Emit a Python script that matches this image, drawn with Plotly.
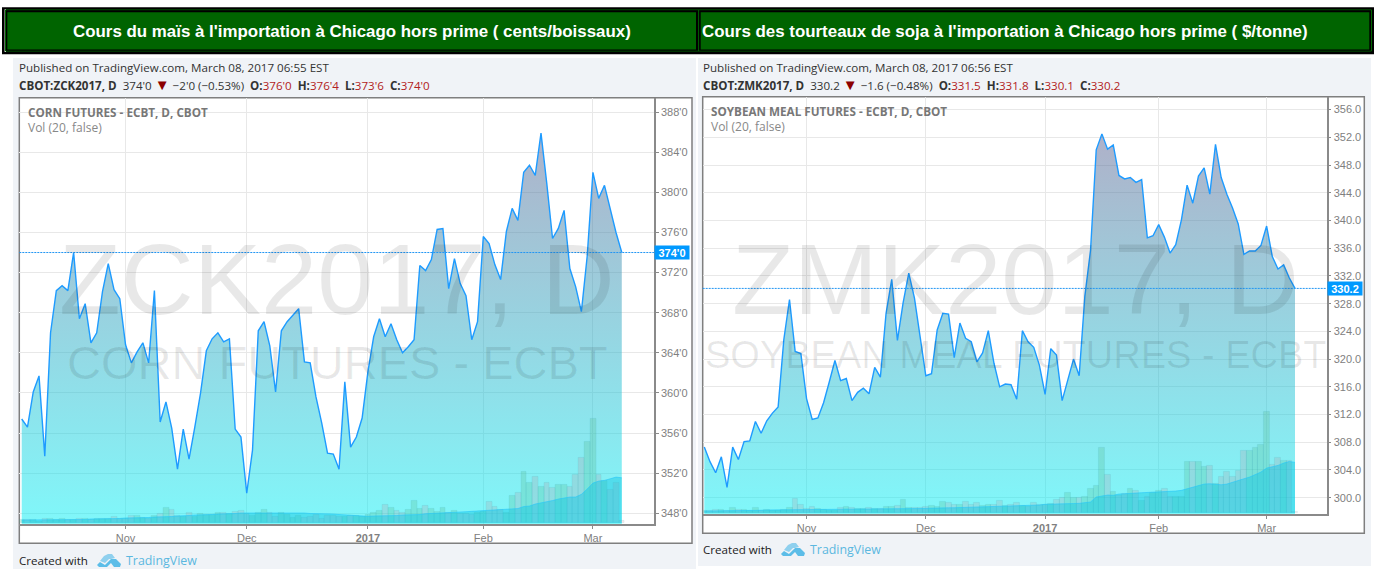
import plotly.graph_objects as go

W, H = 1380, 569

# ---------- data ----------
month_labels = ["Nov", "Dec", "<b>2017</b>", "Feb", "Mar"]
corn_month_idx = [18, 39, 60, 80, 99]
soy_month_idx = [18, 39, 60, 80, 99]

corn_close = [357.4, 356.6, 360.1, 361.7, 353.7, 366.0, 370.2, 370.7, 370.2, 374.0,
              367.4, 368.9, 365.0, 366.0, 370.1, 372.9, 370.3, 369.4, 364.8, 363.0,
              364.1, 365.0, 363.0, 370.2, 357.1, 359.1, 356.5, 352.4, 356.4, 353.4,
              356.6, 360.0, 364.2, 365.4, 366.0, 365.1, 365.4, 356.4, 355.6, 350.0,
              354.3, 366.2, 367.1, 364.7, 360.1, 366.2, 367.1, 367.7, 368.4, 363.1,
              363.0, 359.6, 357.0, 354.0, 353.9, 352.4, 361.1, 354.6, 355.6, 357.5,
              362.1, 365.6, 367.4, 365.6, 366.9, 365.3, 364.0, 364.6, 365.3, 372.7,
              372.2, 373.3, 376.3, 376.4, 370.4, 373.4, 370.9, 369.7, 365.3, 367.1,
              375.6, 374.9, 372.8, 371.3, 376.1, 378.4, 377.2, 382.0, 382.7, 381.7,
              385.9, 380.9, 375.4, 376.4, 378.2, 372.4, 370.6, 368.1, 373.6, 382.0,
              379.4, 380.7, 378.2, 376.0, 374.0]
corn_vol = [3.3, 3, 3, 1.7, 4, 4, 3.3, 4.7, 3.3, 3.3,
            4.7, 4, 3.3, 4.3, 4.3, 4.3, 6, 4.7, 4.7, 7.3,
            7.3, 5.3, 4.7, 7.7, 9.3, 15, 13, 7.3, 6.7, 10,
            6.7, 9.3, 8.3, 8.3, 10, 10, 9.7, 11.3, 12, 9.3,
            7.3, 10, 13, 10.3, 6.7, 10, 8.7, 5, 7.3, 5.7,
            6.7, 8.7, 4.7, 7.7, 7.3, 6.7, 6.7, 7.7, 7.7, 6.7,
            8.3, 10, 12, 18.3, 15, 12, 10, 13.3, 22, 14.7,
            17.3, 14.7, 11, 15.7, 10, 12, 9.3, 9, 8.7, 10.3,
            11.3, 21.3, 16.3, 13.3, 10.7, 27.3, 30.3, 51.3, 40.3, 46.7,
            36.7, 40.3, 35.7, 38.3, 38.3, 36.3, 48.7, 65.7, 81.3, 104.3,
            48.7, 42, 33.7, 40.3, 2.7]
corn_vol_ma = [3, 3, 3, 3, 3, 3, 3, 3, 3, 3,
               3.5, 3.5, 4, 4, 4, 4, 4.5, 4.5, 5, 5,
               5, 5.5, 5.5, 6, 6, 6.5, 6.5, 7, 7, 7.5,
               8, 8, 8.5, 8.5, 9, 9, 9.5, 9.5, 10, 10,
               10, 10, 10, 10.5, 10.5, 10.5, 10.5, 10.5, 10, 10,
               9.5, 9.5, 9.5, 9, 9, 8.5, 8, 7.5, 7, 6.5,
               6.7, 7, 7, 7.5, 7.5, 7.5, 8, 8, 8.5, 8.5,
               9.3, 9.5, 9.7, 10, 10.3, 10.7, 11, 11.3, 11.7, 12,
               12.7, 13, 13, 13.5, 13.5, 14, 14.5, 16.5, 17, 19,
               20, 21.5, 22.5, 24, 25, 26, 26, 28.7, 34, 40,
               42, 42.7, 44.3, 46, 45.3]
corn_ticks = [348, 352, 356, 360, 364, 368, 372, 376, 380, 384, 388]
corn_tick_labels = ["348'0", "352'0", "356'0", "360'0", "364'0", "368'0", "372'0", "376'0", "380'0", "384'0", "388'0"]

soy_close = [307.3, 305.2, 303.6, 305.9, 301.5, 307.3, 305.5, 308.1, 308.2, 311.0,
             309.3, 311.1, 312.2, 313.1, 322.8, 328.6, 321.1, 320.8, 314.3, 311.3,
             311.5, 313.7, 316.7, 319.8, 316.9, 317.2, 314.0, 315.2, 315.8, 315.0,
             318.8, 317.4, 326.6, 331.5, 322.7, 328.1, 332.4, 328.8, 323.2, 317.6,
             317.9, 324.2, 326.6, 326.5, 320.2, 325.2, 323.0, 322.5, 319.6, 320.9,
             324.1, 319.4, 316.0, 316.4, 316.3, 314.2, 324.1, 322.5, 321.7, 319.1,
             314.9, 321.5, 320.6, 314.0, 317.0, 320.0, 317.6, 329.1, 335.7, 350.2,
             352.5, 350.3, 350.9, 346.5, 346.0, 346.2, 345.5, 345.9, 337.5, 337.8,
             339.4, 337.6, 335.3, 336.5, 340.1, 345.1, 342.5, 346.4, 347.6, 343.8,
             351.0, 346.2, 343.8, 341.8, 339.5, 335.1, 335.6, 335.6, 336.4, 339.2,
             334.8, 333.0, 333.6, 331.7, 330.2]
soy_vol = [2, 2.7, 3.3, 3.3, 2, 5.3, 3.3, 3.3, 2.7, 5.3,
           2.7, 3.3, 2.7, 2.7, 3.3, 5.3, 14.3, 8.7, 4.7, 6.3,
           4.3, 3.3, 2, 2, 5.3, 6.3, 5.7, 4.7, 4.7, 5.3,
           4, 4.7, 6.7, 6, 7.3, 13.3, 5.7, 5.7, 5.7, 6.7,
           7.3, 6, 11.7, 10.7, 8.7, 8.7, 11.7, 8.7, 10, 7.3,
           8, 8, 12.7, 7.3, 8, 10, 7.3, 6.7, 10, 8.7,
           8.7, 9.3, 13.3, 15.3, 20.7, 15.7, 15.7, 16.7, 24.7, 27.7,
           65.7, 38.7, 21.3, 17.3, 19.7, 24.7, 22.3, 12.3, 16.7, 20.7,
           22.3, 24.3, 16.7, 16.7, 16.7, 51, 51, 51, 46.7, 47.3,
           29.3, 36.7, 41.3, 36, 42.7, 62.7, 62.7, 65.7, 68, 102,
           48.7, 55.7, 52.7, 52, 1.3]
soy_vol_ma = [2, 2, 2, 2.3, 2.3, 2.5, 2.5, 2.5, 2.5, 2.7,
              2.7, 3, 3, 3, 3, 3.3, 3.5, 3.5, 3.7, 3.7,
              3.7, 3.7, 3.7, 3.7, 3.8, 3.8, 3.8, 3.8, 4, 4,
              4, 4, 4.2, 4.2, 4.3, 4.5, 4.5, 4.5, 4.5, 4.7,
              5, 5, 5.2, 5.2, 5.3, 5.5, 5.5, 5.7, 6, 6,
              6.3, 6.5, 6.5, 6.7, 6.7, 7, 7, 7.3, 7.5, 8,
              8.7, 9, 9, 9.3, 9.3, 9.5, 9.7, 10, 11, 16,
              17, 18, 17.7, 19, 19.3, 20, 20, 20.3, 20.5, 20.7,
              21, 21.3, 21.7, 22, 22.7, 24.3, 26, 27.7, 29, 29.3,
              28.7, 28.3, 29, 31, 32.7, 34.3, 36, 38.7, 41, 45,
              46, 47.7, 50, 51.7, 50.7]
soy_ticks = list(range(300, 360, 4))
soy_tick_labels = [f"{v}.0" for v in soy_ticks]

titles = ["Cours du maïs à l'importation à Chicago hors prime ( cents/boissaux)",
          "Cours des tourteaux de soja à l'importation à Chicago hors prime ( $/tonne)"]

# ---------- helpers ----------
px = lambda x: x / W
py = lambda y: 1 - y / H
shapes, annos = [], []


def rect(x0, y0, x1, y1, fill, line=None, lw=0, layer="below"):
    shapes.append(dict(type="rect", xref="paper", yref="paper", x0=px(x0), x1=px(x1), y0=py(y1), y1=py(y0),
                       fillcolor=fill, line=dict(color=line or "rgba(0,0,0,0)", width=lw), layer=layer))


def text(x, y, s, size=12, color="#333", family="Open Sans", anchor="left", **kw):
    if anchor == "left":
        x -= 2
    annos.append(dict(xref="paper", yref="paper", x=px(x), y=py(y - 1), text=s, showarrow=False, xanchor=anchor,
                      yanchor="middle", font=dict(family=family, size=size, color=color), **kw))


def logo(x, y):
    for pts, col in (([(3, 7), (7, 2), (11, 0), (15, 0), (18, 4), (14, 5), (12, 5), (8, 9)], "#8fd0ee"),
                     ([(0, 11), (3, 8), (8, 11), (14, 5), (19, 5), (24, 10), (23, 13), (17, 13), (14, 9), (10, 13), (2, 13)], "#5cbde8")):
        p = "M" + " L".join(f"{px(x + a):.5f},{py(y + b):.5f}" for a, b in pts) + " Z"
        shapes.append(dict(type="path", xref="paper", yref="paper", path=p, fillcolor=col,
                           line=dict(width=0), layer="above"))


# ---------- header band ----------
rect(2, 7.3, 1374, 54.3, "#000000")
rect(4.6, 9.3, 6, 52, "#ffffff")
shapes.append(dict(type="rect", xref="paper", yref="paper", x0=px(5.5), x1=px(1371.5), y0=py(51), y1=py(9.9),
                   line=dict(color="#006400", width=1), layer="below"))
rect(6.2, 10.6, 1370.6, 50.4, "#000000")
rect(7.3, 12.3, 696, 49.6, "#006400")
rect(700.7, 12.3, 1369.3, 49.6, "#006400")
shapes.append(dict(type="line", xref="paper", yref="paper", x0=px(698.6), x1=px(698.6), y0=py(51), y1=py(9.9),
                   line=dict(color="#006400", width=1), layer="below"))
text(352, 32, f"<b>{titles[0]}</b>", 16.9, "#ffffff", "Liberation Sans", "center")
text(1005, 32, f"<b>{titles[1]}</b>", 16.9, "#ffffff", "Liberation Sans", "center")

# ---------- panels ----------
RED = "#b22222"
NB = "\u00a0"
TRI = "<span style='color:#8b0000;font-size:15px'>▼</span>"


def symbol_line(sym, price, chg, o, h, l, c):
    return (f"<b>{sym}</b>{NB}{NB}{price} {TRI} {chg}{NB}{NB}"
            f"<b>O:</b><span style='color:{RED}'>{o}</span>{NB}{NB}<b>H:</b><span style='color:{RED}'>{h}</span>{NB}{NB}"
            f"<b>L:</b><span style='color:{RED}'>{l}</span>{NB}{NB}<b>C:</b><span style='color:{RED}'>{c}</span>")


panels = [
    dict(panel=(13, 58, 696, 569), frame=(19.3, 97.7, 692, 543.3), axis_x=654, axis_y=524,
         x0=21.7, step=5.77, ticks_idx=corn_month_idx, close=corn_close, vol=corn_vol, ma=corn_vol_ma,
         ticks=corn_ticks, labels=corn_tick_labels, y348=(348, 513.3), ppu=10.03, last_label="374'0",
         tx=19, pub="Published on TradingView.com, March 08, 2017 06:55 EST",
         sym=symbol_line("CBOT:ZCK2017, D", "374'0", "−2'0 (−0.53%)", "376'0", "376'4", "373'6", "374'0"),
         name="CORN FUTURES - ECBT, D, CBOT", namex=28, namey=113, voly=129,
         wm1="ZCK2017, D", wm2="CORN FUTURES - ECBT", wmx=337, wm1y=280, wm2y=363, wm2s=47, credity=561),
    dict(panel=(698, 58, 1371, 566), frame=(702.7, 96.7, 1364.3, 533.3), axis_x=1326.7, axis_y=514,
         x0=704.3, step=5.68, ticks_idx=soy_month_idx, close=soy_close, vol=soy_vol, ma=soy_vol_ma,
         ticks=soy_ticks, labels=soy_tick_labels, y348=(300, 497.7), ppu=6.93, last_label="330.2",
         tx=703, pub="Published on TradingView.com, March 08, 2017 06:56 EST",
         sym=symbol_line("CBOT:ZMK2017, D", "330.2", "−1.6 (−0.48%)", "331.5", "331.8", "330.1", "330.2"),
         name="SOYBEAN MEAL FUTURES - ECBT, D, CBOT", namex=711, namey=112, voly=127.5,
         wm1="ZMK2017, D", wm2="SOYBEAN MEAL FUTURES - ECBT", wmx=1015, wm1y=280, wm2y=356, wm2s=38, credity=550),
]

fig = go.Figure()
layout_axes = {}
GRID = "#e8e8e8"
AXC = "#8a8a8a"
TICKC = "#808080"
for k, p in enumerate(panels):
    xn = "x" if k == 0 else "x2"
    yn = "y" if k == 0 else "y3"
    vn = "y2" if k == 0 else "y4"
    xk, yk, vk = xn.replace("x", "xaxis"), yn.replace("y", "yaxis"), vn.replace("y", "yaxis")
    fx0, fy0, fx1, fy1 = p["frame"]
    ax, ay = p["axis_x"], p["axis_y"]
    rect(*p["panel"], "#f0f3f7")
    rect(fx0, fy0, fx1, fy1, "#ffffff", "#7f7f7f", 1.5)
    xr = [(fx0 - p["x0"]) / p["step"], (ax - p["x0"]) / p["step"]]
    v0, y0 = p["y348"]
    yr = [v0 - (ay - y0) / p["ppu"], v0 + (y0 - fy0) / p["ppu"]]
    idx = list(range(len(p["close"])))
    top = max(p["close"]) + 1
    fig.add_trace(go.Scatter(
        x=idx, y=p["close"], mode="lines", xaxis=xn, yaxis=yn, line=dict(color="#1e9bff", width=1.4), fill="tozeroy",
        fillgradient=dict(type="vertical", start=yr[0], stop=top,
                          colorscale=[[0, "rgba(0,240,245,0.5)"], [1, "rgba(96,96,144,0.5)"]]),
        showlegend=False, hoverinfo="skip"))
    bar_cols = ["rgba(83,185,135,0.25)" if i == 0 or p["close"][i] >= p["close"][i - 1] else "rgba(235,77,92,0.13)"
                for i in idx]
    fig.add_trace(go.Bar(x=idx, y=p["vol"], xaxis=xn, yaxis=vn,
                         marker=dict(color=bar_cols, line=dict(width=0.5, color="rgba(60,170,180,0.25)")),
                         showlegend=False, hoverinfo="skip"))
    fig.add_trace(go.Scatter(x=idx, y=p["ma"], mode="lines", xaxis=xn, yaxis=vn,
                             line=dict(color="rgba(40,200,250,0.6)", width=1),
                             fill="tozeroy", fillcolor="rgba(13,194,225,0.42)", showlegend=False, hoverinfo="skip"))
    layout_axes[xk] = dict(domain=[px(fx0), px(ax)], range=xr, anchor=yn, tickmode="array", tickvals=p["ticks_idx"],
                           ticktext=month_labels, ticks="outside", ticklen=3, tickcolor=AXC,
                           tickfont=dict(family="Liberation Sans", size=11, color=TICKC), showgrid=True, gridcolor=GRID,
                           gridwidth=1, zeroline=False, showline=True, linecolor=AXC, linewidth=1.5)
    layout_axes[yk] = dict(domain=[py(ay), py(fy0)], range=yr, anchor=xn, side="right", tickmode="array",
                           tickvals=p["ticks"], ticktext=p["labels"], ticks="outside", ticklen=3, tickcolor=AXC,
                           tickfont=dict(family="Liberation Sans", size=11, color=TICKC), showgrid=True, gridcolor=GRID,
                           gridwidth=1, zeroline=False, showline=True, linecolor=AXC, linewidth=1.5)
    layout_axes[vk] = dict(overlaying=yn, side="left", range=[-1, ay - fy0], visible=False, showgrid=False, anchor=xn)
    # last-price line
    last = p["close"][-1]
    shapes.append(dict(type="line", xref=f"{xn} domain", yref=yn, x0=0, x1=1, y0=last, y1=last,
                       line=dict(color="#2196f3", width=1, dash="2px,1px"), layer="above"))
    ly = y0 - (last - v0) * p["ppu"]
    annos.append(dict(xref="paper", yref="paper", x=px(ax), y=py(ly), xanchor="left", yanchor="middle", showarrow=False,
                      text=f"<b>{p['last_label']}</b>", width=34, height=13, bgcolor="#0099ff", borderpad=0,
                      font=dict(family="Liberation Sans", size=11, color="#ffffff")))
    # header texts
    text(p["tx"], 68, p["pub"], 11.6, "#333")
    text(p["tx"], 85, p["sym"], 11.6, "#333")
    text(p["namex"], p["namey"], f"<b>{p['name']}</b>", 11.7, "#777")
    text(p["namex"], p["voly"], "Vol (20, false)", 12, "#888")
    # watermarks
    text(p["wmx"], p["wm1y"], p["wm1"], 101, "rgba(0,0,0,0.09)", "Liberation Sans", "center")
    text(p["wmx"], p["wm2y"], p["wm2"], p["wm2s"], "rgba(0,0,0,0.09)", "Liberation Sans", "center")
    # credit
    text(p["tx"], p["credity"], "Created with", 11.6, "#222")
    logo(p["tx"] + 78, p["credity"] - 7)
    text(p["tx"] + 107, p["credity"], "TradingView", 12.4, "#5bb8e0")

fig.update_layout(width=W, height=H, margin=dict(l=0, r=0, t=0, b=0, pad=0), autosize=False,
                  paper_bgcolor="#ffffff", plot_bgcolor="rgba(0,0,0,0)", bargap=0, showlegend=False,
                  shapes=shapes, annotations=annos, **layout_axes)
fig.write_html("out.html", config=dict(displayModeBar=False),
               post_script="document.body.style.margin='0';document.documentElement.style.overflow='hidden';")
